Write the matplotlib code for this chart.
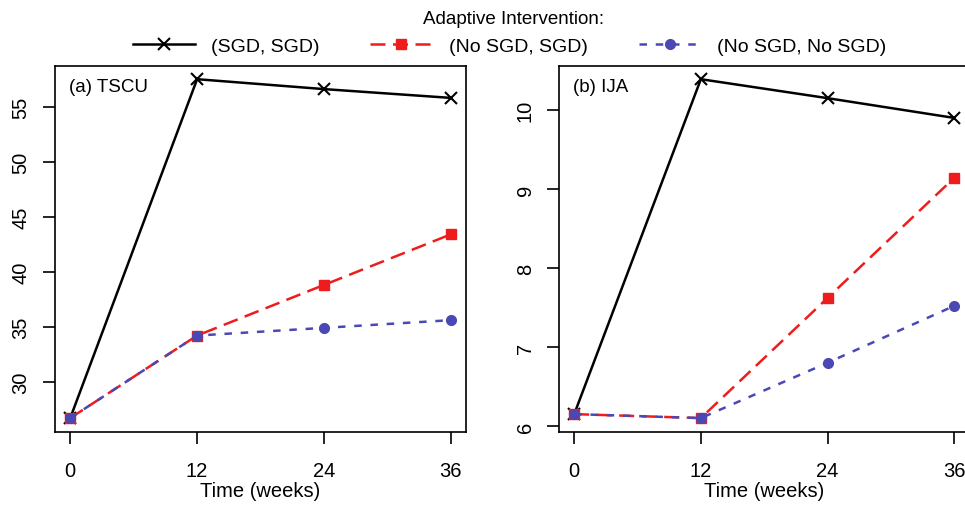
import matplotlib.pyplot as plt
from matplotlib.lines import Line2D

plt.rcParams['font.family'] = ['Liberation Sans', 'DejaVu Sans']

weeks = [0, 12, 24, 36]

# (a) TSCU
tscu_sgd_sgd = [26.7, 57.5, 56.6, 55.8]
tscu_no_sgd = [26.7, 34.2, 38.8, 43.4]
tscu_no_no = [26.7, 34.2, 34.9, 35.6]

# (b) IJA
ija_sgd_sgd = [6.15, 10.39, 10.15, 9.9]
ija_no_sgd = [6.15, 6.10, 7.62, 9.14]
ija_no_no = [6.15, 6.10, 6.80, 7.52]

labels = ['(SGD, SGD)', '(No SGD, SGD)', '(No SGD, No SGD)']
c_black = 'black'
c_red = '#ee1c1c'
c_blue = '#4a48b4'

fig = plt.figure(figsize=(9.65, 5.06), dpi=100)
ax1 = fig.add_axes([0.057, 0.145, 0.426, 0.7233])
ax2 = fig.add_axes([0.5793, 0.145, 0.4252, 0.7233])


def panel(ax, y1, y2, y3, yticks, name):
    ax.plot(weeks, y1, color=c_black, lw=1.8, marker='x', ms=9, mew=1.5)
    ax.plot(weeks, y2, color=c_red, lw=1.8, dashes=(6, 3), marker='s', ms=6.5)
    ax.plot(weeks, y3, color=c_blue, lw=1.8, dashes=(3, 3.5), marker='o', ms=7)
    lo = min(min(y1), min(y2), min(y3))
    hi = max(max(y1), max(y2), max(y3))
    m = (hi - lo) * 0.04
    ax.set_ylim(lo - m, hi + m)
    ax.set_xlim(-1.44, 37.44)
    ax.set_xticks(weeks)
    ax.set_yticks(yticks)
    ax.set_yticklabels([str(t) for t in yticks], rotation=90, va='center')
    ax.tick_params(axis='x', length=8.5, width=1.2, pad=13, labelsize=14.5)
    ax.tick_params(axis='y', length=8.5, width=1.2, pad=9, labelsize=14.5)
    for s in ax.spines.values():
        s.set_linewidth(1.2)
    ax.set_xlabel('Time (weeks)', fontsize=14.5, labelpad=0.5)
    ax.text(0.035, 0.965, name, transform=ax.transAxes, fontsize=13.5,
            va='top', ha='left')


panel(ax1, tscu_sgd_sgd, tscu_no_sgd, tscu_no_no, [30, 35, 40, 45, 50, 55], '(a) TSCU')
panel(ax2, ija_sgd_sgd, ija_no_sgd, ija_no_no, [6, 7, 8, 9, 10], '(b) IJA')

handles = [
    Line2D([], [], color=c_black, lw=1.8, marker='x', ms=9, mew=1.5),
    Line2D([], [], color=c_red, lw=1.8, dashes=(6, 3), marker='s', ms=6.5),
    Line2D([], [], color=c_blue, lw=1.8, dashes=(3, 3.5), marker='o', ms=7),
]
fig.text(0.532, 0.962, 'Adaptive Intervention:', ha='center', va='center', fontsize=13.5)
fig.legend(handles, labels, ncol=3, frameon=False, loc='center',
           bbox_to_anchor=(0.528, 0.907), fontsize=14,
           handlelength=3.2, handletextpad=0.85, columnspacing=2.6,
           borderpad=0.1)

fig.savefig('out.png', dpi=100)
